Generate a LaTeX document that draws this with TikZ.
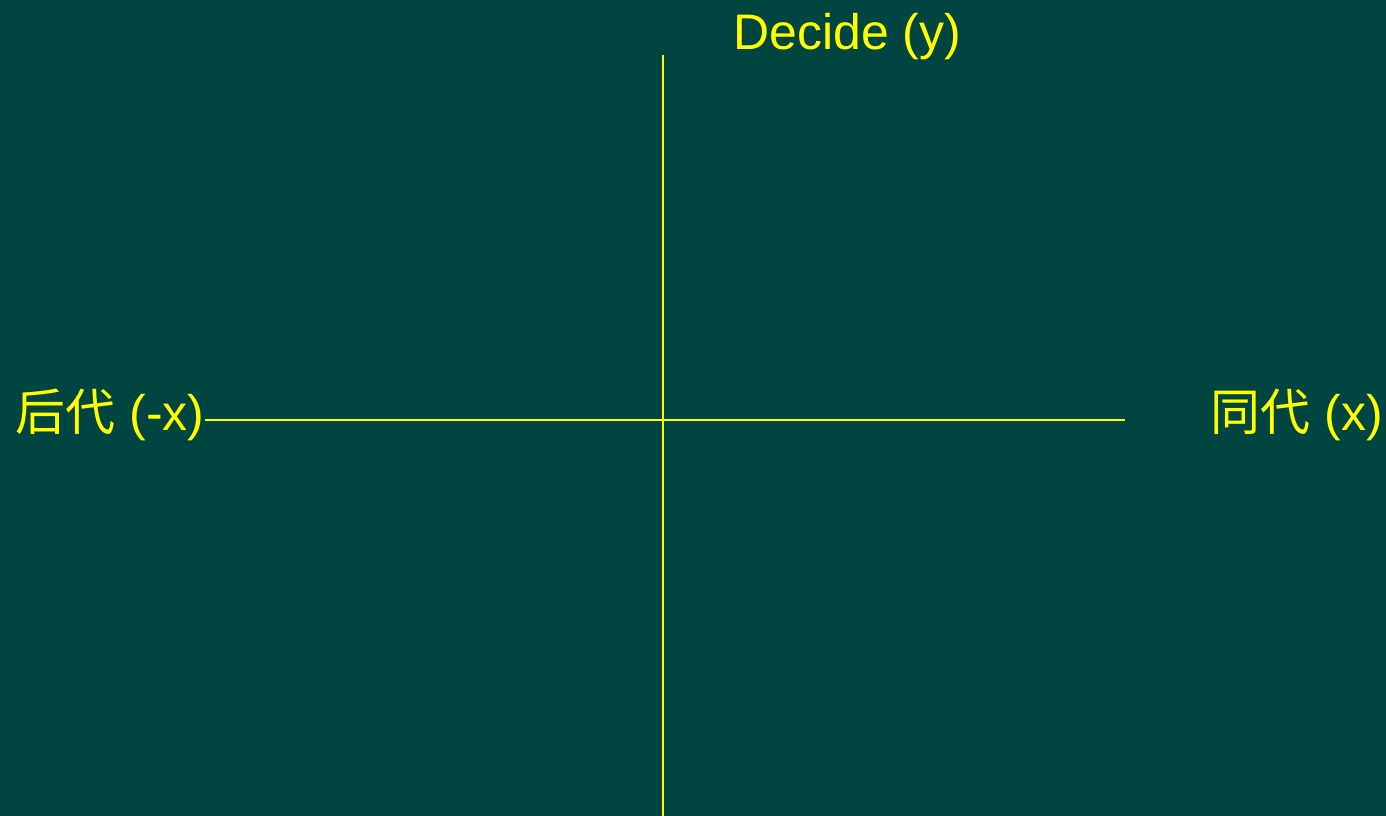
\documentclass[tikz,border=0pt]{standalone}
\usepackage{fontspec}
\setmainfont{Liberation Sans}
\newfontfamily\cjk{Noto Sans CJK SC}
\usepackage{tikz}
\usetikzlibrary{positioning}
\definecolor{boardbg}{HTML}{004542}
\definecolor{axisyellow}{HTML}{FFFF00}
\tikzset{
  axis/.style={draw=axisyellow, line width=0.6pt},
  axislabel/.style={text=axisyellow, inner sep=0pt, font=\fontsize{14.2pt}{17pt}\selectfont}
}
\begin{document}
\begin{tikzpicture}[x=0.01cm, y=-0.01cm]
\useasboundingbox[fill=boardbg] (0,0) rectangle (1386,816);
% axes
\coordinate (xl) at (205,420);
\coordinate (xr) at (1125,420);
\coordinate (yt) at (663,55);
\coordinate (yb) at (663,816);
\draw[axis] (xl) -- (xr);
\draw[axis] (yt) -- (yb);
% labels
\node[axislabel, anchor=base west] (ylab) at (733,50) {Decide (y)};
\node[axislabel, anchor=base east] (xneg) at (205,430) {{\cjk 后代} (-x)};
\node[axislabel, anchor=base west] (xpos) at (1210,430) {{\cjk 同代} (x)};
\end{tikzpicture}
\end{document}
